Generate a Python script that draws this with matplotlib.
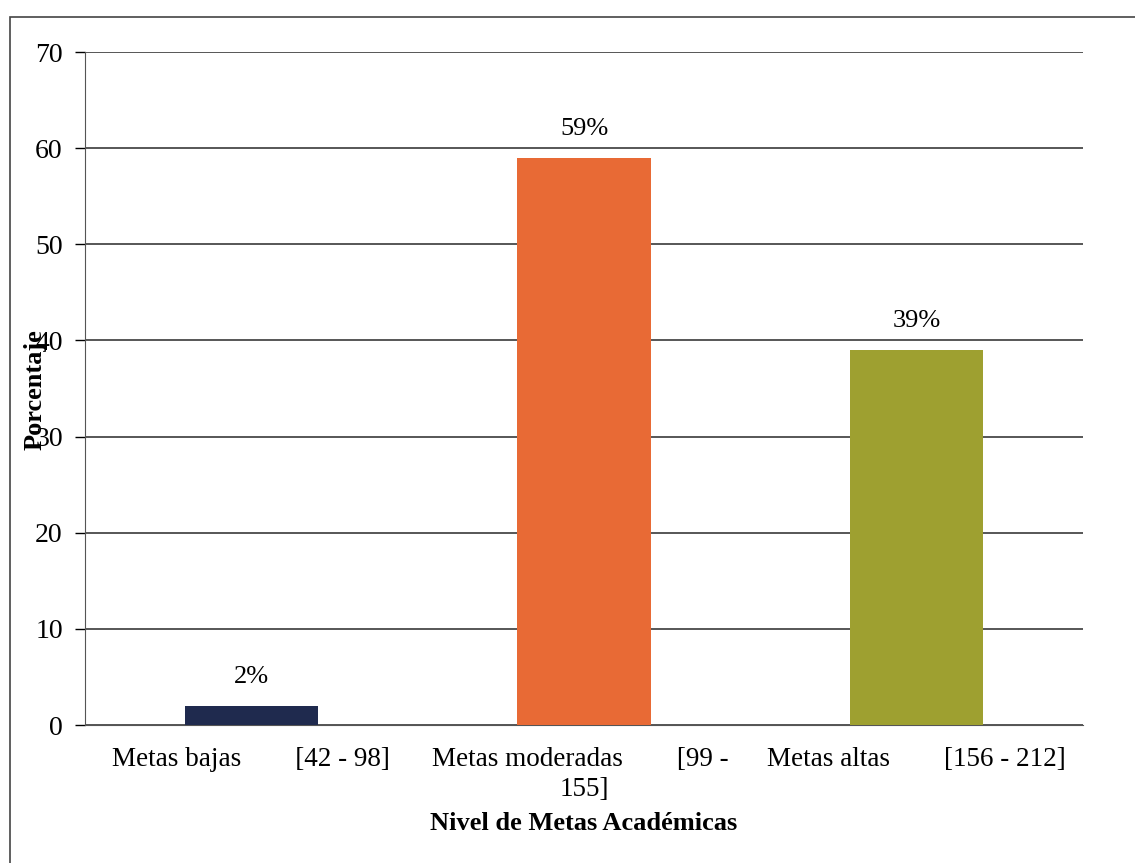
import matplotlib.pyplot as plt
from matplotlib.patches import Rectangle

categories = ["Metas bajas        [42 - 98]",
              "Metas moderadas        [99 - \n155]",
              "Metas altas        [156 - 212]"]
values = [2, 59, 39]
labels = ["2%", "59%", "39%"]
colors = ["#1f2a4e", "#e86a35", "#9ea030"]

plt.rcParams["font.family"] = ["Liberation Serif", "DejaVu Serif"]

fig = plt.figure(figsize=(11.35, 8.63), dpi=100)
ax = fig.add_axes([85 / 1135, 1 - 725 / 863, (1083 - 85) / 1135, (725 - 52) / 863])

x = range(len(categories))
bars = ax.bar(x, values, width=0.4, color=colors, zorder=3)

for b, lab in zip(bars, labels):
    ax.annotate(lab, (b.get_x() + b.get_width() / 2, b.get_height()),
                xytext=(0, 13), textcoords="offset points",
                ha="center", va="bottom", fontsize=19)

ax.set_xlim(-0.5, 2.5)
ax.set_ylim(0, 70)
ax.set_yticks(range(0, 71, 10))
ax.yaxis.grid(True, color="#3a3a3a", linewidth=1.2, zorder=0)
ax.set_axisbelow(True)

ax.set_xticks(list(x))
ax.set_xticklabels(categories, fontsize=19.5, linespacing=1.25)
ax.tick_params(axis="x", length=0, pad=16)
ax.tick_params(axis="y", length=7, width=1, labelsize=20, pad=9)

for s in ["top", "right"]:
    ax.spines[s].set_visible(False)
ax.spines["left"].set_color("#555555")
ax.spines["bottom"].set_color("#555555")

ax.set_xlabel("Nivel de Metas Académicas", fontsize=19, fontweight="bold", labelpad=7)
fig.text(35 / 1135, 1 - 390 / 863, "Porcentaje", rotation=90, fontsize=19,
         fontweight="bold", ha="center", va="center")

# outer chart border
fig.patches.append(Rectangle((10 / 1135, -0.1), 1.2, 1.1 - 17 / 863,
                             transform=fig.transFigure, fill=False,
                             edgecolor="#444444", linewidth=1.2))

fig.savefig("out.png", dpi=100, facecolor="white")
